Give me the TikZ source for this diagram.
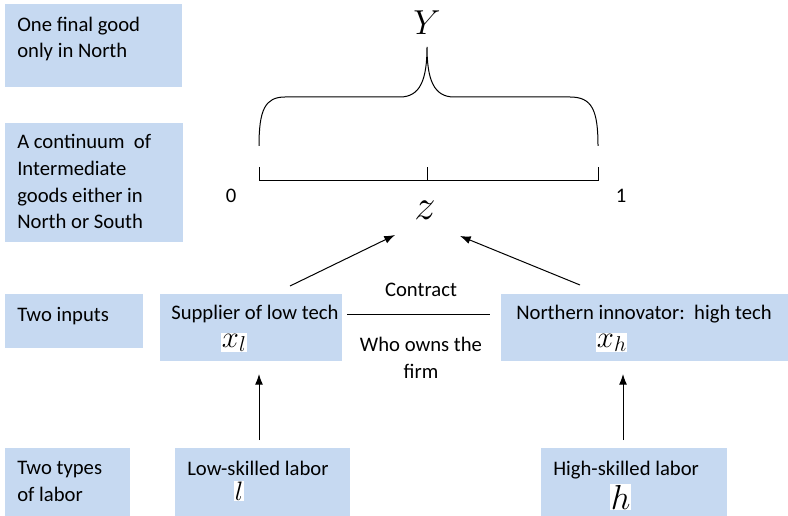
\RequirePackage{fix-cm}
\documentclass[tikz,border=0pt]{standalone}
\usepackage{fontspec}
\setmainfont{Carlito}
\usepackage{tikz}
\definecolor{bleuclair}{HTML}{C6D9F1}
\usetikzlibrary{fit,arrows.meta}
\tikzset{boite/.style={
    fill=bleuclair,
    inner sep=0pt}}
\tikzset{texte/.style={
    inner sep=0pt,
    font=\fontsize{15.5}{20}\selectfont}}
\tikzset{maths/.style={
    inner sep=0.5pt,
    fill=white,
    font=\fontsize{23}{28}\selectfont}}
\tikzset{fleche/.style={
    -{Latex[length=8pt,width=6pt]},
    line width=0.75pt}}

\begin{document}
\begin{tikzpicture}[x=0.75pt, y=-0.75pt]
  \useasboundingbox (0,0) rectangle (788,516);

% les boites
\node[boite, fit={(5,4) (182,87)}] (b1) {};
\node[boite, fit={(5,123) (183,242)}] (b2) {};
\node[boite, fit={(5,294) (143,348)}] (b3) {};
\node[boite, fit={(160,294) (342,361)}] (b4) {};
\node[boite, fit={(5,448) (130,516)}] (b5) {};
\node[boite, fit={(175,448) (350,516)}] (b6) {};
\node[boite, fit={(501,294) (788,361)}] (b7) {};
\node[boite, fit={(541,448) (727,516)}] (b8) {};

% les textes (ancre sur la derniere ligne)
\node[texte, align=left, anchor=base west] (t1) at (17,58) {One final good\\only in North};
\node[texte, align=left, anchor=base west] (t2) at (17,229) {A continuum\ \ of\\Intermediate\\goods either in\\North or South};
\node[texte, anchor=base west] (t3) at (17,321) {Two inputs};
\node[texte, anchor=base west] (t4) at (171,320) {Supplier of low tech};
\node[texte, align=left, anchor=base west] (t5) at (17,501) {Two types\\of labor};
\node[texte, anchor=base west] (t6) at (187,475) {Low-skilled labor};
\node[texte, anchor=base west] (t7) at (516,320) {Northern innovator:\ \ high tech};
\node[texte, anchor=base west] (t8) at (553,475) {High-skilled labor};
\node[texte, anchor=base] (contrat) at (421,297) {Contract};
\node[texte, align=center, anchor=base] (qui) at (421,378) {Who owns the\\firm};
\node[texte, anchor=base] (zero) at (231,203) {0};
\node[texte, anchor=base] (un) at (621,203) {1};

% les variables
\node[maths, anchor=base west] (xl) at (221,347) {$x_l$};
\node[maths, anchor=base west] (xh) at (596,347) {$x_h$};
\node[maths, anchor=base west, font=\fontsize{20}{24}\selectfont] (l) at (234,500) {$l$};
\node[maths, anchor=base west, font=\fontsize{26}{30}\selectfont] (h) at (610,509) {$h$};
\node[inner sep=0pt, font=\fontsize{26}{30}\selectfont, anchor=base] (Y) at (427,35) {$Y$};
\node[inner sep=0pt, font=\fontsize{32}{36}\selectfont, anchor=base] (z) at (425,220) {$z$};

% l'axe et l'accolade
\coordinate (A0) at (259,181);
\coordinate (A1) at (598,181);
\coordinate (Am) at (427,181);
\draw[line width=0.75pt] (A0) ++(0,-14) -- (A0) -- (A1) -- ++(0,-14);
\draw[line width=0.75pt] (Am) -- ++(0,-14);
\draw[line width=0.75pt] (259,146) .. controls (259,110) and (265,97) .. (285,97)
  -- (400,97) .. controls (420,97) and (427,80) .. (427,47)
  .. controls (427,80) and (434,97) .. (454,97)
  -- (570,97) .. controls (592,97) and (598,110) .. (598,146);

% les fleches
\coordinate (s1) at (290,286);
\coordinate (s2) at (395,235);
\coordinate (n1) at (580,285);
\coordinate (n2) at (460,236);
\coordinate (c1) at (347,315);
\coordinate (c2) at (490,315);
\coordinate (bl1) at (259,440);
\coordinate (bl2) at (259,374);
\coordinate (bh1) at (623,440);
\coordinate (bh2) at (623,374);

  \draw[fleche] (s1) -- (s2);
  \draw[fleche] (n1) -- (n2);
  \draw[line width=0.75pt] (c1) -- (c2);
  \draw[fleche] (bl1) -- (bl2);
  \draw[fleche] (bh1) -- (bh2);
\end{tikzpicture}
\end{document}
